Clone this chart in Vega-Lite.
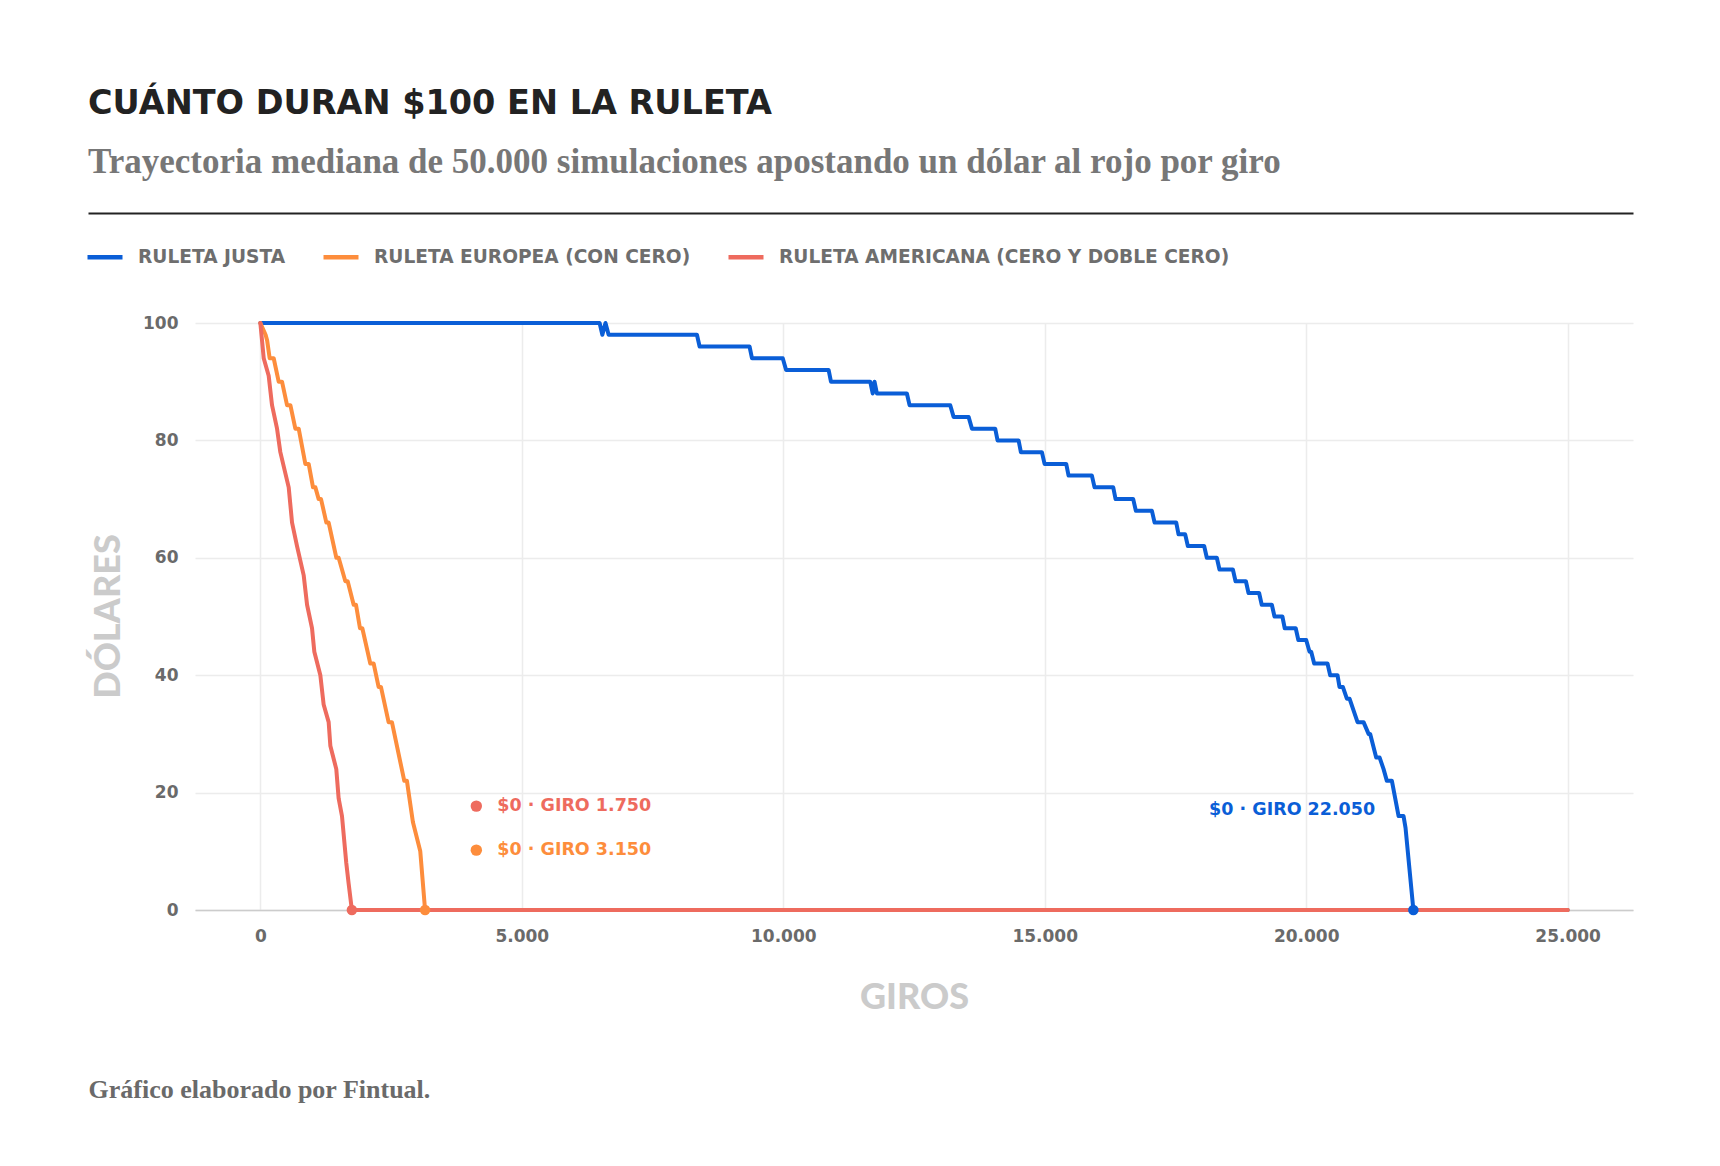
{
  "$schema": "https://vega.github.io/schema/vega-lite/v6.json",
  "autosize": {"type": "none"},
  "padding": {"left": 195, "top": 323, "right": 87, "bottom": 256},
  "width": 1438,
  "height": 587,
  "background": "white",
  "title": {
    "text": "CUÁNTO DURAN $100 EN LA RULETA",
    "subtitle": "Trayectoria mediana de 50.000 simulaciones apostando un dólar al rojo por giro",
    "anchor": "start",
    "frame": "group",
    "dx": -107,
    "offset": 32,
    "font": "DejaVu Sans",
    "fontSize": 33.5,
    "fontWeight": "bold",
    "color": "#222222",
    "subtitleFont": "Liberation Serif",
    "subtitleFontSize": 35,
    "subtitleFontWeight": "bold",
    "subtitleColor": "#777777",
    "subtitlePadding": 24
  },
  "datasets": {
    "trayectorias": [
      {"serie": "Ruleta justa", "giro": 0, "dolares": 100},
      {"serie": "Ruleta justa", "giro": 6488, "dolares": 100},
      {"serie": "Ruleta justa", "giro": 6540, "dolares": 98},
      {"serie": "Ruleta justa", "giro": 6600, "dolares": 100},
      {"serie": "Ruleta justa", "giro": 6660, "dolares": 98},
      {"serie": "Ruleta justa", "giro": 8349, "dolares": 98},
      {"serie": "Ruleta justa", "giro": 8400, "dolares": 96},
      {"serie": "Ruleta justa", "giro": 9355, "dolares": 96},
      {"serie": "Ruleta justa", "giro": 9401, "dolares": 94},
      {"serie": "Ruleta justa", "giro": 9990, "dolares": 94},
      {"serie": "Ruleta justa", "giro": 10054, "dolares": 92},
      {"serie": "Ruleta justa", "giro": 10867, "dolares": 92},
      {"serie": "Ruleta justa", "giro": 10912, "dolares": 90},
      {"serie": "Ruleta justa", "giro": 11663, "dolares": 90},
      {"serie": "Ruleta justa", "giro": 11710, "dolares": 88},
      {"serie": "Ruleta justa", "giro": 11745, "dolares": 90},
      {"serie": "Ruleta justa", "giro": 11790, "dolares": 88},
      {"serie": "Ruleta justa", "giro": 12364, "dolares": 88},
      {"serie": "Ruleta justa", "giro": 12415, "dolares": 86},
      {"serie": "Ruleta justa", "giro": 13193, "dolares": 86},
      {"serie": "Ruleta justa", "giro": 13257, "dolares": 84},
      {"serie": "Ruleta justa", "giro": 13544, "dolares": 84},
      {"serie": "Ruleta justa", "giro": 13608, "dolares": 82},
      {"serie": "Ruleta justa", "giro": 14053, "dolares": 82},
      {"serie": "Ruleta justa", "giro": 14098, "dolares": 80},
      {"serie": "Ruleta justa", "giro": 14500, "dolares": 80},
      {"serie": "Ruleta justa", "giro": 14544, "dolares": 78},
      {"serie": "Ruleta justa", "giro": 14946, "dolares": 78},
      {"serie": "Ruleta justa", "giro": 14997, "dolares": 76},
      {"serie": "Ruleta justa", "giro": 15411, "dolares": 76},
      {"serie": "Ruleta justa", "giro": 15456, "dolares": 74},
      {"serie": "Ruleta justa", "giro": 15902, "dolares": 74},
      {"serie": "Ruleta justa", "giro": 15953, "dolares": 72},
      {"serie": "Ruleta justa", "giro": 16310, "dolares": 72},
      {"serie": "Ruleta justa", "giro": 16355, "dolares": 70},
      {"serie": "Ruleta justa", "giro": 16692, "dolares": 70},
      {"serie": "Ruleta justa", "giro": 16743, "dolares": 68},
      {"serie": "Ruleta justa", "giro": 17050, "dolares": 68},
      {"serie": "Ruleta justa", "giro": 17101, "dolares": 66},
      {"serie": "Ruleta justa", "giro": 17515, "dolares": 66},
      {"serie": "Ruleta justa", "giro": 17559, "dolares": 64},
      {"serie": "Ruleta justa", "giro": 17686, "dolares": 64},
      {"serie": "Ruleta justa", "giro": 17737, "dolares": 62},
      {"serie": "Ruleta justa", "giro": 18049, "dolares": 62},
      {"serie": "Ruleta justa", "giro": 18100, "dolares": 60},
      {"serie": "Ruleta justa", "giro": 18291, "dolares": 60},
      {"serie": "Ruleta justa", "giro": 18342, "dolares": 58},
      {"serie": "Ruleta justa", "giro": 18598, "dolares": 58},
      {"serie": "Ruleta justa", "giro": 18649, "dolares": 56},
      {"serie": "Ruleta justa", "giro": 18847, "dolares": 56},
      {"serie": "Ruleta justa", "giro": 18897, "dolares": 54},
      {"serie": "Ruleta justa", "giro": 19100, "dolares": 54},
      {"serie": "Ruleta justa", "giro": 19150, "dolares": 52},
      {"serie": "Ruleta justa", "giro": 19343, "dolares": 52},
      {"serie": "Ruleta justa", "giro": 19394, "dolares": 50},
      {"serie": "Ruleta justa", "giro": 19545, "dolares": 50},
      {"serie": "Ruleta justa", "giro": 19590, "dolares": 48},
      {"serie": "Ruleta justa", "giro": 19800, "dolares": 48},
      {"serie": "Ruleta justa", "giro": 19850, "dolares": 46},
      {"serie": "Ruleta justa", "giro": 20000, "dolares": 46},
      {"serie": "Ruleta justa", "giro": 20064, "dolares": 44},
      {"serie": "Ruleta justa", "giro": 20096, "dolares": 44},
      {"serie": "Ruleta justa", "giro": 20153, "dolares": 42},
      {"serie": "Ruleta justa", "giro": 20408, "dolares": 42},
      {"serie": "Ruleta justa", "giro": 20459, "dolares": 40},
      {"serie": "Ruleta justa", "giro": 20599, "dolares": 40},
      {"serie": "Ruleta justa", "giro": 20637, "dolares": 38},
      {"serie": "Ruleta justa", "giro": 20701, "dolares": 38},
      {"serie": "Ruleta justa", "giro": 20778, "dolares": 36},
      {"serie": "Ruleta justa", "giro": 20829, "dolares": 36},
      {"serie": "Ruleta justa", "giro": 20982, "dolares": 32},
      {"serie": "Ruleta justa", "giro": 21097, "dolares": 32},
      {"serie": "Ruleta justa", "giro": 21193, "dolares": 30},
      {"serie": "Ruleta justa", "giro": 21224, "dolares": 30},
      {"serie": "Ruleta justa", "giro": 21339, "dolares": 26},
      {"serie": "Ruleta justa", "giro": 21403, "dolares": 26},
      {"serie": "Ruleta justa", "giro": 21480, "dolares": 24},
      {"serie": "Ruleta justa", "giro": 21543, "dolares": 22},
      {"serie": "Ruleta justa", "giro": 21639, "dolares": 22},
      {"serie": "Ruleta justa", "giro": 21767, "dolares": 16},
      {"serie": "Ruleta justa", "giro": 21862, "dolares": 16},
      {"serie": "Ruleta justa", "giro": 21900, "dolares": 14},
      {"serie": "Ruleta justa", "giro": 22050, "dolares": 0},
      {"serie": "Ruleta justa", "giro": 25000, "dolares": 0},
      {"serie": "Ruleta europea (con cero)", "giro": 0, "dolares": 100},
      {"serie": "Ruleta europea (con cero)", "giro": 100, "dolares": 98},
      {"serie": "Ruleta europea (con cero)", "giro": 130, "dolares": 97},
      {"serie": "Ruleta europea (con cero)", "giro": 178, "dolares": 94},
      {"serie": "Ruleta europea (con cero)", "giro": 255, "dolares": 94},
      {"serie": "Ruleta europea (con cero)", "giro": 350, "dolares": 90},
      {"serie": "Ruleta europea (con cero)", "giro": 414, "dolares": 90},
      {"serie": "Ruleta europea (con cero)", "giro": 510, "dolares": 86},
      {"serie": "Ruleta europea (con cero)", "giro": 574, "dolares": 86},
      {"serie": "Ruleta europea (con cero)", "giro": 669, "dolares": 82},
      {"serie": "Ruleta europea (con cero)", "giro": 733, "dolares": 82},
      {"serie": "Ruleta europea (con cero)", "giro": 860, "dolares": 76},
      {"serie": "Ruleta europea (con cero)", "giro": 924, "dolares": 76},
      {"serie": "Ruleta europea (con cero)", "giro": 1007, "dolares": 72},
      {"serie": "Ruleta europea (con cero)", "giro": 1052, "dolares": 72},
      {"serie": "Ruleta europea (con cero)", "giro": 1115, "dolares": 70},
      {"serie": "Ruleta europea (con cero)", "giro": 1160, "dolares": 70},
      {"serie": "Ruleta europea (con cero)", "giro": 1262, "dolares": 66},
      {"serie": "Ruleta europea (con cero)", "giro": 1306, "dolares": 66},
      {"serie": "Ruleta europea (con cero)", "giro": 1453, "dolares": 60},
      {"serie": "Ruleta europea (con cero)", "giro": 1497, "dolares": 60},
      {"serie": "Ruleta europea (con cero)", "giro": 1625, "dolares": 56},
      {"serie": "Ruleta europea (con cero)", "giro": 1670, "dolares": 56},
      {"serie": "Ruleta europea (con cero)", "giro": 1784, "dolares": 52},
      {"serie": "Ruleta europea (con cero)", "giro": 1829, "dolares": 52},
      {"serie": "Ruleta europea (con cero)", "giro": 1905, "dolares": 48},
      {"serie": "Ruleta europea (con cero)", "giro": 1950, "dolares": 48},
      {"serie": "Ruleta europea (con cero)", "giro": 2102, "dolares": 42},
      {"serie": "Ruleta europea (con cero)", "giro": 2166, "dolares": 42},
      {"serie": "Ruleta europea (con cero)", "giro": 2261, "dolares": 38},
      {"serie": "Ruleta europea (con cero)", "giro": 2306, "dolares": 38},
      {"serie": "Ruleta europea (con cero)", "giro": 2452, "dolares": 32},
      {"serie": "Ruleta europea (con cero)", "giro": 2516, "dolares": 32},
      {"serie": "Ruleta europea (con cero)", "giro": 2752, "dolares": 22},
      {"serie": "Ruleta europea (con cero)", "giro": 2803, "dolares": 22},
      {"serie": "Ruleta europea (con cero)", "giro": 2835, "dolares": 20},
      {"serie": "Ruleta europea (con cero)", "giro": 2917, "dolares": 15},
      {"serie": "Ruleta europea (con cero)", "giro": 3058, "dolares": 10},
      {"serie": "Ruleta europea (con cero)", "giro": 3150, "dolares": 0},
      {"serie": "Ruleta europea (con cero)", "giro": 25000, "dolares": 0},
      {"serie": "Ruleta americana (cero y doble cero)", "giro": 0, "dolares": 100},
      {"serie": "Ruleta americana (cero y doble cero)", "giro": 64, "dolares": 94},
      {"serie": "Ruleta americana (cero y doble cero)", "giro": 159, "dolares": 91},
      {"serie": "Ruleta americana (cero y doble cero)", "giro": 223, "dolares": 86},
      {"serie": "Ruleta americana (cero y doble cero)", "giro": 319, "dolares": 82},
      {"serie": "Ruleta americana (cero y doble cero)", "giro": 382, "dolares": 78},
      {"serie": "Ruleta americana (cero y doble cero)", "giro": 542, "dolares": 72},
      {"serie": "Ruleta americana (cero y doble cero)", "giro": 606, "dolares": 66},
      {"serie": "Ruleta americana (cero y doble cero)", "giro": 701, "dolares": 62},
      {"serie": "Ruleta americana (cero y doble cero)", "giro": 829, "dolares": 57},
      {"serie": "Ruleta americana (cero y doble cero)", "giro": 893, "dolares": 52},
      {"serie": "Ruleta americana (cero y doble cero)", "giro": 988, "dolares": 48},
      {"serie": "Ruleta americana (cero y doble cero)", "giro": 1032, "dolares": 44},
      {"serie": "Ruleta americana (cero y doble cero)", "giro": 1147, "dolares": 40},
      {"serie": "Ruleta americana (cero y doble cero)", "giro": 1210, "dolares": 35},
      {"serie": "Ruleta americana (cero y doble cero)", "giro": 1306, "dolares": 32},
      {"serie": "Ruleta americana (cero y doble cero)", "giro": 1338, "dolares": 28},
      {"serie": "Ruleta americana (cero y doble cero)", "giro": 1452, "dolares": 24},
      {"serie": "Ruleta americana (cero y doble cero)", "giro": 1497, "dolares": 19},
      {"serie": "Ruleta americana (cero y doble cero)", "giro": 1561, "dolares": 16},
      {"serie": "Ruleta americana (cero y doble cero)", "giro": 1643, "dolares": 8},
      {"serie": "Ruleta americana (cero y doble cero)", "giro": 1688, "dolares": 4.5},
      {"serie": "Ruleta americana (cero y doble cero)", "giro": 1750, "dolares": 0},
      {"serie": "Ruleta americana (cero y doble cero)", "giro": 25000, "dolares": 0}
    ],
    "quiebras": [
      {"serie": "Ruleta justa", "giro": 22050, "dolares": 0},
      {"serie": "Ruleta europea (con cero)", "giro": 3150, "dolares": 0},
      {"serie": "Ruleta americana (cero y doble cero)", "giro": 1750, "dolares": 0}
    ],
    "etiquetas": [
      {"serie": "Ruleta americana (cero y doble cero)", "giro": 4130, "dolares": 17.7, "texto": "$0 · GIRO 1.750"},
      {"serie": "Ruleta europea (con cero)", "giro": 4130, "dolares": 10.2, "texto": "$0 · GIRO 3.150"},
      {"serie": "Ruleta justa", "giro": 21319, "dolares": 17.1, "texto": "$0 · GIRO 22.050"}
    ]
  },
  "layer": [
    {
      "data": {"name": "trayectorias"},
      "mark": {"type": "line", "strokeWidth": 4, "strokeJoin": "round", "strokeCap": "round"},
      "encoding": {
        "x": {
          "field": "giro",
          "type": "quantitative",
          "scale": {"domain": [-1250, 26250], "nice": false, "zero": false},
          "axis": {
            "orient": "bottom",
            "values": [0, 5000, 10000, 15000, 20000, 25000],
            "labelExpr": "replace(format(datum.value, ','), ',', '.')",
            "grid": true,
            "domain": true,
            "domainColor": "#cccccc",
            "domainWidth": 1.5,
            "ticks": false,
            "tickSize": 0,
            "labelPadding": 18,
            "title": "GIROS",
            "titleX": 719,
            "titleY": 98,
            "titleAlign": "center",
            "titleBaseline": "alphabetic"
          }
        },
        "y": {
          "field": "dolares",
          "type": "quantitative",
          "scale": {"domain": [0, 100], "nice": false},
          "axis": {
            "orient": "left",
            "values": [0, 20, 40, 60, 80, 100],
            "grid": true,
            "domain": false,
            "ticks": false,
            "tickSize": 0,
            "labelPadding": 17,
            "title": "DÓLARES",
            "titleX": -87,
            "titleY": 293,
            "titleAngle": 270,
            "titleAlign": "center",
            "titleBaseline": "middle"
          }
        },
        "color": {
          "field": "serie",
          "type": "nominal",
          "scale": {
            "domain": ["Ruleta justa", "Ruleta europea (con cero)", "Ruleta americana (cero y doble cero)"],
            "range": ["#0a5ed7", "#fd8d3c", "#ee6b5e"]
          },
          "legend": {
            "orient": "none",
            "legendX": -110,
            "legendY": -86,
            "direction": "horizontal",
            "title": null,
            "symbolType": "stroke",
            "symbolStrokeWidth": 4.5,
            "symbolSize": 1225,
            "labelExpr": "upper(datum.label)",
            "labelFont": "DejaVu Sans",
            "labelFontSize": 18.6,
            "labelFontWeight": "bold",
            "labelColor": "#6e6e6e",
            "labelOffset": 13,
            "columnPadding": 28,
            "labelLimit": 0
          }
        }
      }
    },
    {
      "data": {"name": "quiebras"},
      "mark": {"type": "point", "filled": true, "opacity": 1, "size": 110},
      "encoding": {
        "x": {
          "field": "giro",
          "type": "quantitative",
          "scale": {"domain": [-3296.2, 26250], "range": [-107, 1438], "nice": false, "zero": false},
          "axis": {
            "orient": "top",
            "offset": 110,
            "domain": true,
            "domainColor": "#222222",
            "domainWidth": 2,
            "labels": false,
            "ticks": false,
            "grid": false,
            "title": null
          }
        },
        "y": {"field": "dolares", "type": "quantitative", "scale": {"domain": [0, 100], "nice": false}, "axis": null},
        "color": {"field": "serie", "type": "nominal", "legend": null}
      }
    },
    {
      "data": {"name": "etiquetas"},
      "transform": [{"filter": "datum.serie !== 'Ruleta justa'"}],
      "mark": {"type": "point", "filled": true, "opacity": 1, "size": 130},
      "encoding": {
        "x": {"field": "giro", "type": "quantitative", "scale": {"domain": [-1250, 26250], "nice": false, "zero": false}, "axis": null},
        "y": {"field": "dolares", "type": "quantitative", "scale": {"domain": [0, 100], "nice": false}, "axis": null},
        "color": {"field": "serie", "type": "nominal", "legend": null}
      }
    },
    {
      "data": {"name": "etiquetas"},
      "transform": [{"filter": "datum.serie !== 'Ruleta justa'"}],
      "mark": {"type": "text", "align": "left", "baseline": "middle", "dx": 21, "font": "DejaVu Sans", "fontSize": 17.5, "fontWeight": "bold"},
      "encoding": {
        "x": {
          "field": "giro",
          "type": "quantitative",
          "scale": {"domain": [-1250, 26250], "nice": false, "zero": false},
          "axis": {
            "orient": "bottom",
            "domain": false,
            "labels": false,
            "ticks": false,
            "grid": false,
            "title": "Gráfico elaborado por Fintual.",
            "titleX": -107,
            "titleY": 187,
            "titleAlign": "left",
            "titleAnchor": null,
            "titleBaseline": "alphabetic",
            "titleFont": "Liberation Serif",
            "titleFontSize": 26,
            "titleFontWeight": "bold",
            "titleColor": "#6a6a6a"
          }
        },
        "y": {"field": "dolares", "type": "quantitative", "scale": {"domain": [0, 100], "nice": false}, "axis": null},
        "text": {"field": "texto"},
        "color": {"field": "serie", "type": "nominal", "legend": null}
      }
    },
    {
      "data": {"name": "etiquetas"},
      "transform": [{"filter": "datum.serie === 'Ruleta justa'"}],
      "mark": {"type": "text", "align": "right", "baseline": "middle", "font": "DejaVu Sans", "fontSize": 17.5, "fontWeight": "bold"},
      "encoding": {
        "x": {"field": "giro", "type": "quantitative", "scale": {"domain": [-1250, 26250], "nice": false, "zero": false}, "axis": null},
        "y": {"field": "dolares", "type": "quantitative", "scale": {"domain": [0, 100], "nice": false}, "axis": null},
        "text": {"field": "texto"},
        "color": {"field": "serie", "type": "nominal", "legend": null}
      }
    }
  ],
  "resolve": {"scale": {"x": "independent"}, "axis": {"x": "independent", "y": "independent"}},
  "config": {
    "view": {"stroke": null},
    "font": "Lato",
    "axis": {
      "gridColor": "#ececec",
      "gridWidth": 1.5,
      "labelFont": "DejaVu Sans",
      "labelFontSize": 17,
      "labelFontWeight": "bold",
      "labelColor": "#6a6a6a",
      "titleFont": "Lato",
      "titleFontSize": 36,
      "titleFontWeight": 900,
      "titleColor": "#cbcbcb"
    }
  }
}
